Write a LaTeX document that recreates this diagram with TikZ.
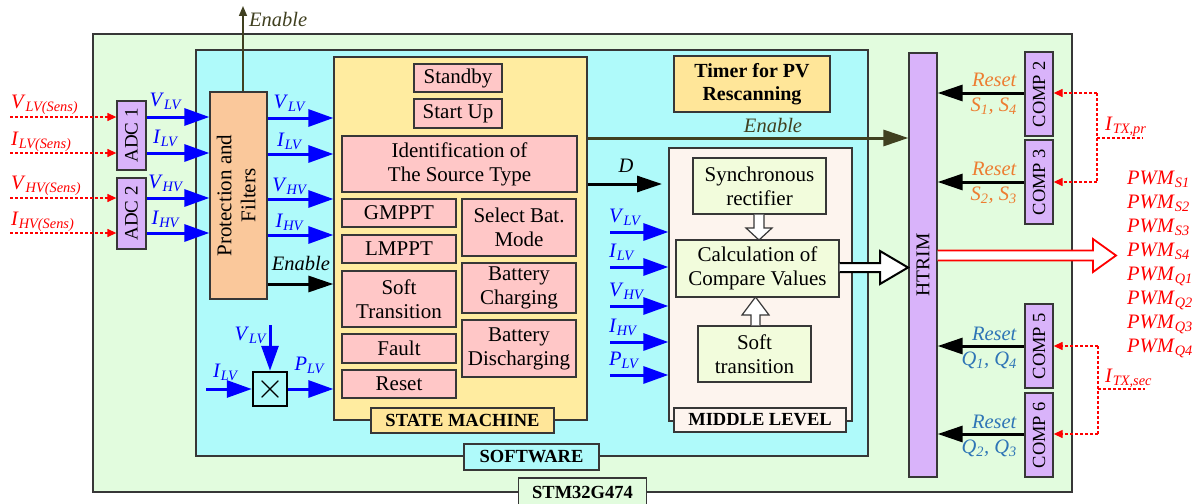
\RequirePackage{fix-cm}
\documentclass[tikz,border=0pt]{standalone}
\usepackage{fontspec}
\setmainfont{Liberation Serif}
\usepackage{graphicx}
\usetikzlibrary{arrows.meta,calc}
\definecolor{outg}{RGB}{226,252,222}
\definecolor{swc}{RGB}{175,250,250}
\definecolor{smy}{RGB}{255,236,160}
\definecolor{pnk}{RGB}{255,199,199}
\definecolor{pch}{RGB}{250,200,155}
\definecolor{lav}{RGB}{217,179,250}
\definecolor{mlp}{RGB}{253,244,238}
\definecolor{lgy}{RGB}{242,252,220}
\definecolor{tmy}{RGB}{255,230,153}
\definecolor{bdr}{RGB}{55,55,55}
\definecolor{olv}{RGB}{64,64,32}
\definecolor{org}{RGB}{237,125,49}
\definecolor{rbl}{RGB}{46,117,182}
\definecolor{abl}{RGB}{0,0,255}
\newcommand{\vsub}[2]{\textit{#1}\textsubscript{\textit{#2}}}
\tikzset{
  bx/.style={draw=bdr, line width=1.3pt, inner sep=0pt, align=center, font=\fontsize{21}{24}\selectfont},
  sbox/.style={bx, fill=pnk},
  rot/.style={bx, fill=lav, font=\fontsize{19}{22}\selectfont},
  lbl/.style={draw=bdr, line width=1.3pt, inner sep=0pt, font=\fontsize{18.5}{20}\selectfont\bfseries},
  txt/.style={inner sep=0pt, font=\fontsize{20.5}{24}\selectfont},
  bluelbl/.style={txt, text=abl},
  redlbl/.style={txt, text=red},
  bluearr/.style={draw=abl, line width=3pt, -{Triangle[length=25pt,width=17pt]}},
  blkarr/.style={draw=black, line width=3pt, -{Triangle[length=25pt,width=16pt]}},
  olvarr/.style={draw=olv, line width=3pt, -{Triangle[length=25pt,width=16pt]}},
  olvthin/.style={draw=olv, line width=1.5pt, -{Triangle[length=10pt,width=8pt]}},
  reddashline/.style={draw=red, line width=1.3pt, dash pattern=on 3pt off 2pt},
  reddash/.style={reddashline, -{Triangle[length=9pt,width=8pt]}},
  hollow/.style={draw=bdr, fill=white, line width=1.2pt, line join=miter},
  hollowbig/.style={draw=black, fill=white, line width=2pt, line join=miter},
  redhollow/.style={draw=red, fill=white, line width=1.8pt, line join=miter}
}
\begin{document}
\begin{tikzpicture}[x=1pt,y=-1pt]
\useasboundingbox (0,0) rectangle (1193,503);
% containers
\node[bx, fill=outg, minimum width=979, minimum height=458] (stm) at (582.5,263) {};
\node[bx, fill=swc, minimum width=672, minimum height=406] (sw) at (532,253) {};
\node[bx, fill=smy, minimum width=253, minimum height=363] (sm) at (460.5,238.5) {};
\node[bx, fill=mlp, minimum width=183, minimum height=273] (ml) at (760.5,284.5) {};
\node[bx, fill=tmy, minimum width=156, minimum height=56, font=\fontsize{20}{23}\selectfont\bfseries] (timer) at (752,84) {Timer for PV\\Rescanning};
% labels of containers
\node[lbl, fill=tmy, minimum width=183, minimum height=25] (smlbl) at (462.5,420.5) {STATE MACHINE};
\node[lbl, fill=mlp, minimum width=172, minimum height=24] (mllbl) at (760,420) {MIDDLE LEVEL};
\node[lbl, fill=swc, minimum width=135, minimum height=26] (swlbl) at (531.5,457) {SOFTWARE};
\node[lbl, fill=outg, minimum width=128, minimum height=28] (stmlbl) at (582.5,492) {STM32G474};
% state machine boxes
\node[sbox, minimum width=88, minimum height=28] (standby) at (458,78) {Standby};
\node[sbox, minimum width=88, minimum height=29] (startup) at (458,113.5) {Start Up};
\node[sbox, minimum width=235, minimum height=56] (ident) at (459.5,164) {Identification of\\The Source Type};
\node[sbox, minimum width=114, minimum height=28] (gmppt) at (399,213) {GMPPT};
\node[sbox, minimum width=114, minimum height=28] (lmppt) at (399,249) {LMPPT};
\node[sbox, minimum width=114, minimum height=56] (softtr) at (399,299) {Soft\\Transition};
\node[sbox, minimum width=114, minimum height=29] (fault) at (399,348.5) {Fault};
\node[sbox, minimum width=114, minimum height=28] (reset) at (399,384) {Reset};
\node[sbox, minimum width=114, minimum height=57] (selbat) at (519,227.5) {Select Bat.\\Mode};
\node[sbox, minimum width=114, minimum height=50] (batch) at (519,288) {Battery\\Charging};
\node[sbox, minimum width=114, minimum height=57] (batdis) at (519,348.5) {Battery\\Discharging};
% middle level boxes
\node[bx, fill=lgy, minimum width=133, minimum height=56] (sync) at (759.5,186) {Synchronous\\rectifier};
\node[bx, fill=lgy, minimum width=163, minimum height=57] (calc) at (757.5,268.5) {Calculation of\\Compare Values};
\node[bx, fill=lgy, minimum width=113, minimum height=56] (softt) at (754.5,354) {Soft\\transition};
% ADCs, protection
\node[rot, minimum width=29, minimum height=69] (adc1) at (131.5,135.5) {\rotatebox{90}{ADC 1}};
\node[rot, minimum width=29, minimum height=71] (adc2) at (131.5,213.5) {\rotatebox{90}{ADC 2}};
\node[bx, fill=pch, minimum width=57, minimum height=207] (prot) at (238.5,195.5) {\rotatebox{90}{\begin{tabular}{@{}c@{}}Protection and\\Filters\end{tabular}}};
% HTRIM and comparators
\node[rot, minimum width=28, minimum height=424, font=\fontsize{19.5}{22}\selectfont] (htrim) at (923,265) {\rotatebox{90}{HTRIM}};
\node[rot, minimum width=28, minimum height=84, font=\fontsize{18.5}{22}\selectfont] (comp2) at (1039,94) {\rotatebox{90}{COMP 2}};
\node[rot, minimum width=28, minimum height=84, font=\fontsize{18.5}{22}\selectfont] (comp3) at (1039,182) {\rotatebox{90}{COMP 3}};
\node[rot, minimum width=28, minimum height=84, font=\fontsize{18.5}{22}\selectfont] (comp5) at (1039,346) {\rotatebox{90}{COMP 5}};
\node[rot, minimum width=28, minimum height=84, font=\fontsize{18.5}{22}\selectfont] (comp6) at (1039,435) {\rotatebox{90}{COMP 6}};
% multiplier
\node[draw=black, line width=2.5pt, fill=swc, minimum width=34, minimum height=34, inner sep=0pt] (mult) at (270,389) {\fontsize{36}{36}\selectfont$\times$};

% sensed inputs
\coordinate (in1) at (10,117);
\coordinate (in2) at (10,153);
\coordinate (in3) at (10,198);
\coordinate (in4) at (10,233);
\draw[reddash] (in1) -- (in1 -| adc1.west);
\draw[reddash] (in2) -- (in2 -| adc1.west);
\draw[reddash] (in3) -- (in3 -| adc2.west);
\draw[reddash] (in4) -- (in4 -| adc2.west);
\node[redlbl, anchor=base west] (lin1) at (11,108) {\vsub{V}{LV(Sens)}};
\node[redlbl, anchor=base west] (lin2) at (11,145) {\vsub{I}{LV(Sens)}};
\node[redlbl, anchor=base west] (lin3) at (11,189) {\vsub{V}{HV(Sens)}};
\node[redlbl, anchor=base west] (lin4) at (11,225) {\vsub{I}{HV(Sens)}};
% ADC -> protection
\draw[bluearr] (adc1.east |- in1) -- (prot.west |- in1);
\draw[bluearr] (adc1.east |- in2) -- (prot.west |- in2);
\draw[bluearr] (adc2.east |- in3) -- (prot.west |- in3);
\draw[bluearr] (adc2.east |- in4) -- (prot.west |- in4);
\node[bluelbl, anchor=base] (la1) at (166,106) {\vsub{V}{LV}};
\node[bluelbl, anchor=base] (la2) at (166,143) {\vsub{I}{LV}};
\node[bluelbl, anchor=base] (la3) at (166,188) {\vsub{V}{HV}};
\node[bluelbl, anchor=base] (la4) at (166,224) {\vsub{I}{HV}};
% protection -> state machine
\draw[bluearr] (prot.east |- 0,118) -- (sm.west |- 0,118);
\draw[bluearr] (prot.east |- 0,154) -- (sm.west |- 0,154);
\draw[bluearr] (prot.east |- 0,199) -- (sm.west |- 0,199);
\draw[bluearr] (prot.east |- 0,235) -- (sm.west |- 0,235);
\node[bluelbl, anchor=base] (lb1) at (290,108) {\vsub{V}{LV}};
\node[bluelbl, anchor=base] (lb2) at (290,146) {\vsub{I}{LV}};
\node[bluelbl, anchor=base] (lb3) at (290,191) {\vsub{V}{HV}};
\node[bluelbl, anchor=base] (lb4) at (290,227) {\vsub{I}{HV}};
\draw[blkarr] (prot.east |- 0,284) -- (sm.west |- 0,284);
\node[txt, anchor=base] (len1) at (301,270) {\textit{Enable}};
% enable up
\coordinate (entop) at (243,6);
\draw[olvthin] (prot.north -| entop) -- (entop);
\node[txt, text=olv, anchor=base west] (len0) at (249,27) {\textit{Enable}};
% multiplier arrows
\coordinate (vtop) at (270,325);
\coordinate (ilv) at (206,389);
\draw[bluearr] (vtop) -- (mult.north);
\draw[bluearr] (ilv) -- (mult.west);
\draw[bluearr] (mult.east) -- (sm.west |- mult.east);
\node[bluelbl, anchor=base] (lm1) at (251,340) {\vsub{V}{LV}};
\node[bluelbl, anchor=base] (lm2) at (226,377) {\vsub{I}{LV}};
\node[bluelbl, anchor=base] (lm3) at (310,370) {\vsub{P}{LV}};
% state machine -> middle level / HTRIM
\draw[olvarr] (sm.east |- 0,138) -- (htrim.west |- 0,138);
\node[txt, text=olv, anchor=base] (len2) at (773,132) {\textit{Enable}};
\coordinate (dend) at (662,184);
\draw[blkarr] (sm.east |- dend) -- (dend);
\node[txt, anchor=base] (ld) at (626,172) {\textit{D}};
% middle level inputs
\coordinate (m1) at (610,232);
\coordinate (m2) at (610,267);
\coordinate (m3) at (610,306);
\coordinate (m4) at (610,342);
\coordinate (m5) at (610,375);
\draw[bluearr] (m1) -- (m1 -| ml.west);
\draw[bluearr] (m2) -- (m2 -| ml.west);
\draw[bluearr] (m3) -- (m3 -| ml.west);
\draw[bluearr] (m4) -- (m4 -| ml.west);
\draw[bluearr] (m5) -- (m5 -| ml.west);
\node[bluelbl, anchor=base west] (lc1) at (609,222) {\vsub{V}{LV}};
\node[bluelbl, anchor=base west] (lc2) at (609,257) {\vsub{I}{LV}};
\node[bluelbl, anchor=base west] (lc3) at (609,296) {\vsub{V}{HV}};
\node[bluelbl, anchor=base west] (lc4) at (609,332) {\vsub{I}{HV}};
\node[bluelbl, anchor=base west] (lc5) at (609,365) {\vsub{P}{LV}};
% hollow arrows in middle level
\draw[hollow] (sync.south -| 754,0) -- (754,228) -- (746,228) -- (759,240) -- (772,228) -- (764,228) -- (sync.south -| 764,0);
\draw[hollow] (softt.north -| 751,0) -- (751,315) -- (742,315) -- (755.5,297) -- (769,315) -- (760,315) -- (softt.north -| 760,0);
\draw[hollowbig] (calc.east |- 0,263) -- (880,263) -- (880,251) -- (908,267.5) -- (880,284) -- (880,272) -- (calc.east |- 0,272);
% comparators -> HTRIM
\draw[blkarr] (comp2.west |- 0,93) -- (htrim.east |- 0,93);
\draw[blkarr] (comp3.west |- 0,182) -- (htrim.east |- 0,182);
\draw[blkarr] (comp5.west |- 0,346) -- (htrim.east |- 0,346);
\draw[blkarr] (comp6.west |- 0,434) -- (htrim.east |- 0,434);
\node[txt, text=org, anchor=base east] (lr1) at (1017,86) {\textit{Reset}};
\node[txt, text=org, anchor=base east] (ls1) at (1017,111) {\vsub{S}{1}\textit{,} \vsub{S}{4}};
\node[txt, text=org, anchor=base east] (lr2) at (1017,175) {\textit{Reset}};
\node[txt, text=org, anchor=base east] (ls2) at (1017,200) {\vsub{S}{2}\textit{,} \vsub{S}{3}};
\node[txt, text=rbl, anchor=base east] (lr3) at (1017,340) {\textit{Reset}};
\node[txt, text=rbl, anchor=base east] (ls3) at (1017,365) {\vsub{Q}{1}\textit{,} \vsub{Q}{4}};
\node[txt, text=rbl, anchor=base east] (lr4) at (1017,428) {\textit{Reset}};
\node[txt, text=rbl, anchor=base east] (ls4) at (1017,453) {\vsub{Q}{2}\textit{,} \vsub{Q}{3}};
% current sense inputs
\coordinate (tp1) at (1097,93);
\coordinate (tp2) at (1097,182);
\coordinate (tpe) at (1143,138);
\draw[reddashline] (tp1) -- (tp2);
\draw[reddashline] (tp1 |- tpe) -- (tpe);
\draw[reddash] (tp1) -- (comp2.east |- tp1);
\draw[reddash] (tp2) -- (comp3.east |- tp2);
\node[redlbl, anchor=base west] (lip) at (1105,130) {\vsub{I}{TX,pr}};
\coordinate (ts1) at (1098,346);
\coordinate (ts2) at (1098,434);
\coordinate (tse) at (1145,389);
\draw[reddashline] (ts1) -- (ts2);
\draw[reddashline] (ts1 |- tse) -- (tse);
\draw[reddash] (ts1) -- (comp5.east |- ts1);
\draw[reddash] (ts2) -- (comp6.east |- ts2);
\node[redlbl, anchor=base west] (lis) at (1105,382) {\vsub{I}{TX,sec}};
% PWM output
\draw[redhollow] (htrim.east |- 0,250.5) -- (1093,250.5) -- (1093,239) -- (1116,255.5) -- (1093,272) -- (1093,260.5) -- (htrim.east |- 0,260.5);
\foreach \s [count=\i] in {S1,S2,S3,S4,Q1,Q2,Q3,Q4}
  \node[redlbl, anchor=base west] (pwm\i) at (1127,{184+24.1*(\i-1)}) {\vsub{PWM}{\s}};
\end{tikzpicture}
\end{document}
